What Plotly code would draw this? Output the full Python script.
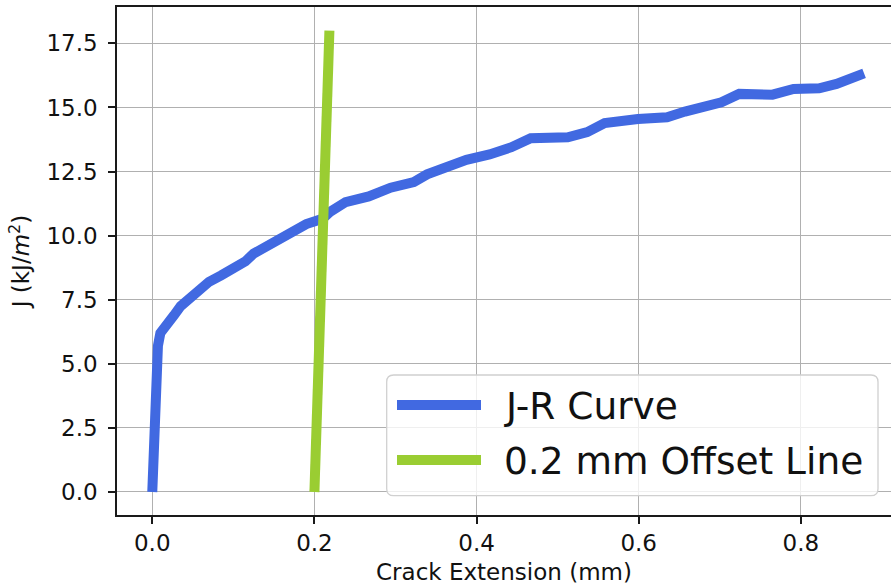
import plotly.graph_objects as go

# ---- data ----
crack_ext = [0.0, 0.004, 0.007, 0.010, 0.013, 0.018, 0.027, 0.035, 0.045, 0.055,
             0.070, 0.085, 0.104, 0.115, 0.125, 0.140, 0.157, 0.176, 0.190, 0.210,
             0.219, 0.2385, 0.267, 0.294, 0.3226, 0.339, 0.3635, 0.3875, 0.416, 0.443,
             0.4668, 0.5125, 0.5365, 0.558, 0.599, 0.635, 0.657, 0.683, 0.702, 0.724,
             0.765, 0.791, 0.8226, 0.844, 0.878]
j_values = [0.0, 5.5, 5.7, 6.2, 6.3, 6.6, 6.9, 7.25, 7.5, 7.85,
            8.2, 8.45, 8.75, 9.0, 9.3, 9.55, 9.88, 10.14, 10.45, 10.66,
            10.92, 11.31, 11.53, 11.87, 12.09, 12.39, 12.67, 12.96, 13.17, 13.45,
            13.80, 13.84, 14.04, 14.39, 14.55, 14.62, 14.84, 15.01, 15.20, 15.53,
            15.50, 15.72, 15.75, 15.92, 16.33]

offset_x = [0.2, 0.2185]
offset_j = [0.0, 18.0]

series_names = ["J-R Curve", "0.2 mm Offset Line"]
series_colors = ["#4169E1", "#9ACD32"]

x_ticks = [0.0, 0.2, 0.4, 0.6, 0.8]
y_ticks = [0.0, 2.5, 5.0, 7.5, 10.0, 12.5, 15.0, 17.5]

# ---- figure ----
W, H = 891, 587
ML, MR, MT, MB = 117, 0, 7, 72
FONT = "DejaVu Sans"
LW = 10
FS = 23

fig = go.Figure()
fig.add_trace(go.Scatter(x=crack_ext, y=j_values, mode="lines", name=series_names[0],
                         line=dict(color=series_colors[0], width=LW), showlegend=False))
fig.add_trace(go.Scatter(x=offset_x, y=offset_j, mode="lines", name=series_names[1],
                         line=dict(color=series_colors[1], width=LW), showlegend=False))

axis_common = dict(
    showgrid=True, gridcolor="#b0b0b0", gridwidth=1.3,
    zeroline=False, showline=True, linecolor="#1a1a1a", linewidth=1.6,
    ticks="outside", ticklen=7, tickwidth=1.5, tickcolor="#1a1a1a",
    tickfont=dict(family=FONT, size=FS, color="#111111"),
)

fig.update_xaxes(
    range=[-0.0435, 0.9112], tickvals=x_ticks,
    ticktext=[f"{v:.1f}" for v in x_ticks], mirror=True,
    title=dict(text="Crack Extension (mm)", standoff=8,
               font=dict(family=FONT, size=FS, color="#111111")),
    **axis_common,
)
fig.update_yaxes(
    range=[-0.898, 18.92], tickvals=y_ticks,
    ticktext=[f"{v:.1f}" for v in y_ticks], mirror=False,
    ticklabelstandoff=6,
    title=dict(text="J (kJ/<i>m</i><sup>2</sup>)", standoff=10,
               font=dict(family=FONT, size=FS, color="#111111")),
    **axis_common,
)

# ---- legend drawn in matplotlib style (box + long line samples) ----
pw = W - ML - MR
ph = H - MT - MB


def px(xp):
    return (xp - ML) / pw


def py(yp):
    return (H - MB - yp) / ph


bx0, bx1, by0, by1, r = 386.7, 878.0, 375.0, 495.7, 7.0
path = (f"M {px(bx0 + r)},{py(by0)} L {px(bx1 - r)},{py(by0)} "
        f"Q {px(bx1)},{py(by0)} {px(bx1)},{py(by0 + r)} "
        f"L {px(bx1)},{py(by1 - r)} Q {px(bx1)},{py(by1)} {px(bx1 - r)},{py(by1)} "
        f"L {px(bx0 + r)},{py(by1)} Q {px(bx0)},{py(by1)} {px(bx0)},{py(by1 - r)} "
        f"L {px(bx0)},{py(by0 + r)} Q {px(bx0)},{py(by0)} {px(bx0 + r)},{py(by0)} Z")
shapes = [dict(type="path", xref="paper", yref="paper", path=path,
               fillcolor="rgba(255,255,255,0.8)", line=dict(color="#d0d0d0", width=1.3),
               layer="above")]
annotations = []
rows_y = [405.0, 460.0]
for name, color, yrow in zip(series_names, series_colors, rows_y):
    shapes.append(dict(type="line", xref="paper", yref="paper",
                       x0=px(397), x1=px(481), y0=py(yrow), y1=py(yrow),
                       line=dict(color=color, width=LW), layer="above"))
    annotations.append(dict(xref="paper", yref="paper", x=px(502), y=py(yrow + 1),
                            xanchor="left", yanchor="middle", showarrow=False,
                            text=name, font=dict(family=FONT, size=37.5, color="#111111")))

fig.update_layout(
    width=W, height=H,
    margin=dict(l=ML, r=MR, t=MT, b=MB, pad=0),
    paper_bgcolor="white", plot_bgcolor="white",
    shapes=shapes, annotations=annotations,
    font=dict(family=FONT, color="#111111"),
    showlegend=False,
)

fig.write_html("out.html")
